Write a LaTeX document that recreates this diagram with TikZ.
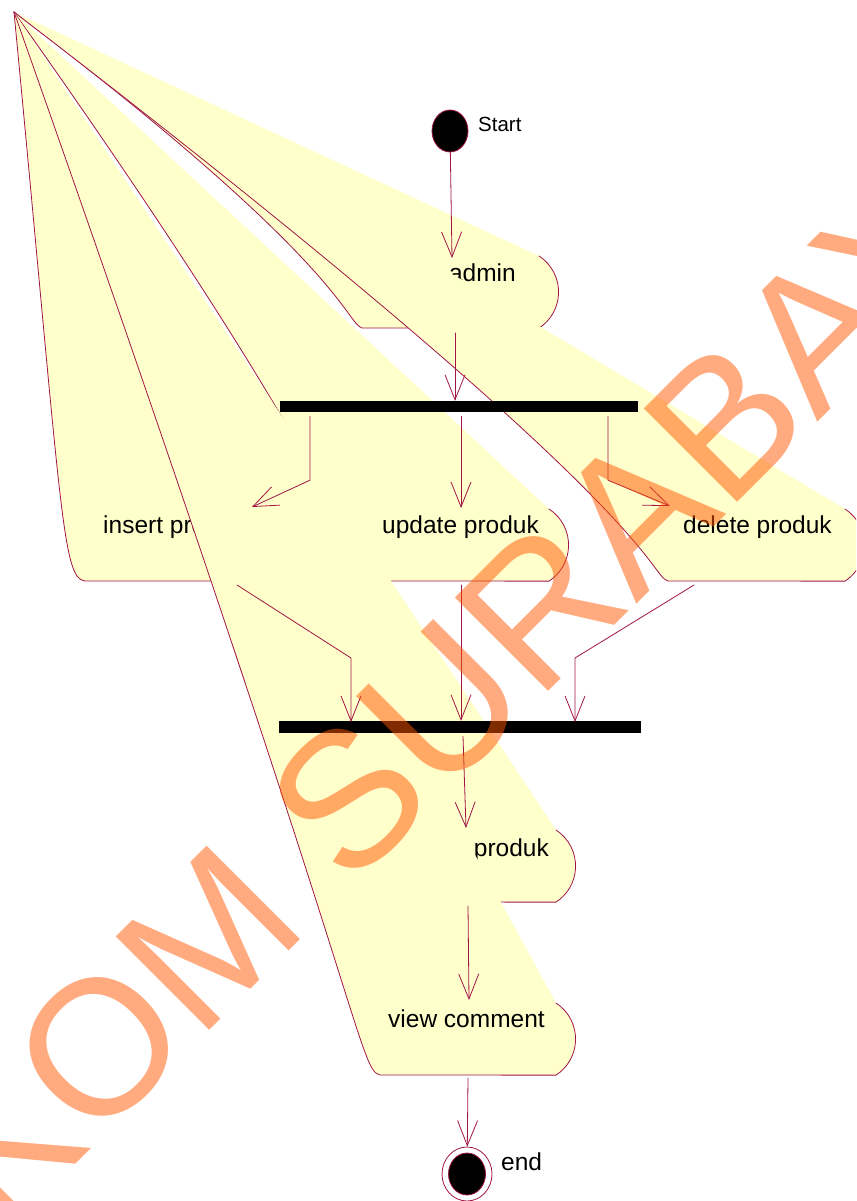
\documentclass[tikz,border=0pt]{standalone}
\usepackage{fontspec}
\setmainfont{Liberation Sans}
\usetikzlibrary{arrows.meta,shapes.geometric}
\definecolor{rosered}{RGB}{160,20,70}
\definecolor{actfill}{RGB}{255,255,204}
\definecolor{wmorange}{RGB}{255,85,0}
\begin{document}
\begin{tikzpicture}[x=1pt,y=-1pt,line cap=round,line join=round,
    act/.style={fill=actfill,draw=rosered,line width=0.8pt},
    lbl/.style={inner sep=0pt,font=\fontsize{24.5}{28}\selectfont},
    flow/.style={draw=rosered,line width=0.8pt,-{Straight Barb[length=25pt,width=20pt]}},
    bar/.style={rectangle,fill=black,inner sep=0pt},
    dot/.style={ellipse,fill=black,draw=rosered,line width=0.8pt,inner sep=0pt}]
            \useasboundingbox(0,0)rectangle(856,1201);
            \clip(0,0)rectangle(856,1201);
            % activities, all pulled to the same corner
            \filldraw[act](539,256)arc[start angle=-57,end angle=57,radius=43]--(362,328)..controls(345,322) and(345,263)..(14,12);
            \node[lbl,anchor=base east](admin)at(516,281.5){admin};
            \filldraw[act](262,509)arc[start angle=-57,end angle=57,radius=43]--(85,581)..controls(62,578) and(62,514)..(14,12);
            \node[lbl,anchor=base west](insert)at(103,533){insert produk};
            \filldraw[act](549,509)arc[start angle=-57,end angle=57,radius=43]--(372,581)..controls(352,576) and(370,514)..(14,12);
            \node[lbl,anchor=base west](update)at(382,533){update produk};
            \filldraw[act](845,509)arc[start angle=-57,end angle=57,radius=43]--(668,581)..controls(648,575) and(668,514)..(14,12);
            \node[lbl,anchor=base west](delete)at(683,533){delete produk};
            \filldraw[act](556,830)arc[start angle=-57,end angle=57,radius=43]--(379,902)..controls(359,897) and(375,835)..(14,12);
            \node[lbl,anchor=base east](produk)at(549,856){produk};
            \filldraw[act](556,1003)arc[start angle=-57,end angle=57,radius=43]--(380,1075)..controls(358,1070) and(366,1008)..(14,12);
            \node[lbl,anchor=base west](viewc)at(388,1027){view comment};
            % start, bars, end
            \node[dot,minimum width=36pt,minimum height=42pt](start)at(450,131){};
            \node[anchor=base west,inner sep=0pt,font=\fontsize{20.5}{24}\selectfont](startlbl)at(478,131.5){Start};
            \node[bar,minimum width=358pt,minimum height=11pt](fork)at(459,406.5){};
            \node[bar,minimum width=362pt,minimum height=12pt](join)at(460,727){};
            \node[ellipse,draw=rosered,fill=white,line width=0.8pt,minimum width=50pt,minimum height=54pt,inner sep=0pt](stop)at(467,1174){};
            \node[dot,minimum width=37pt,minimum height=42pt](stopdot)at(stop){};
            \node[lbl,anchor=base west](endlbl)at(501,1170){end};
            % flows
            \coordinate(adminin)at(452,258);
            \coordinate(adminout)at(455,333);
            \coordinate(insin)at(252,507);
            \coordinate(updin)at(461,508);
            \coordinate(delin)at(670,506);
            \coordinate(insout)at(237,585);
            \coordinate(updout)at(461,585);
            \coordinate(delout)at(694,585);
            \coordinate(prodin)at(466,828);
            \coordinate(prodout)at(468,906);
            \coordinate(viewin)at(469,1000);
            \coordinate(viewout)at(468,1078);
            \draw[flow](start)--(adminin);
            \draw[flow](adminout)--(adminout|-fork.north);
            \draw[flow]([xshift=-149pt,yshift=-4pt]fork.south)--++(0,64)--(insin);
            \draw[flow]([xshift=2pt,yshift=-4pt]fork.south)--(updin);
            \draw[flow]([xshift=149pt,yshift=-4pt]fork.south)--++(0,64)--(delin);
            \draw[flow](insout)--++(114,73)--++(0,64);
            \draw[flow](updout)--(updout|-join.north);
            \draw[flow](delout)--++(-119,73)--++(0,64);
            \draw[flow]([xshift=3pt,yshift=-3pt]join.south)--(prodin);
            \draw[flow](prodout)--(viewin);
            \draw[flow](viewout)--(stop);
            % watermark
            \node[rotate=45,anchor=base,inner sep=0pt,text=wmorange,text opacity=0.5,font=\fontsize{192}{200}\selectfont](mark)at(430,810){STIKOM SURABAYA};
\end{tikzpicture}
\end{document}
